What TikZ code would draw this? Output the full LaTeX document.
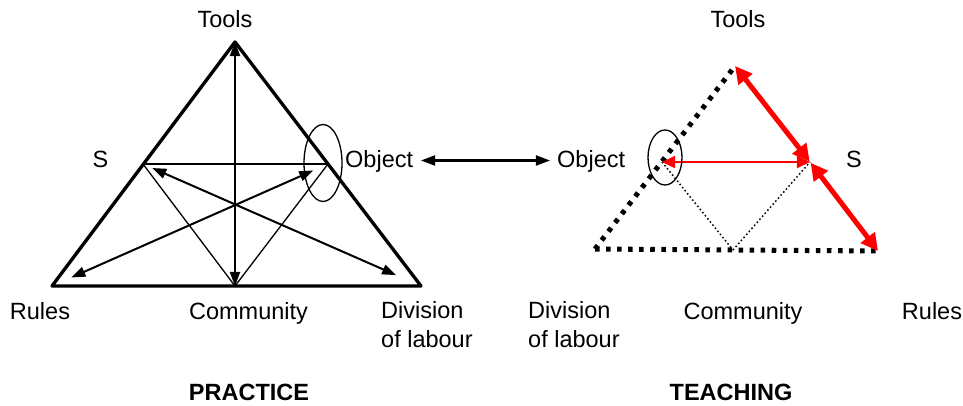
\documentclass[tikz,border=0pt]{standalone}
\usepackage{fontspec}
\setmainfont{Liberation Sans}
\usepackage{tkz-euclide}
\usetikzlibrary{arrows.meta,calc}
\definecolor{LinkClr}{RGB}{255,0,0}
\tikzset{
  lbl/.style={font=\fontsize{23.4}{28}\selectfont,inner sep=0pt,anchor=base},
  two lines/.style={lbl,align=left,anchor=base west},
  heading/.style={lbl,font=\fontsize{23.4}{28}\selectfont\bfseries},
  black both/.style={{Triangle[length=14pt,width=10pt]}-{Triangle[length=14pt,width=10pt]},line width=2pt},
  red both/.style={{Triangle[length=17pt,width=17pt]}-{Triangle[length=17pt,width=17pt]},line width=5pt,color=LinkClr},
  red thin both/.style={{Triangle[length=13pt,width=12pt]}-{Triangle[length=13pt,width=12pt]},line width=2pt,color=LinkClr},
  big dots/.style={line width=5pt,line cap=butt,dash pattern=on 4.5pt off 6.5pt},
  small dots/.style={line width=1.5pt,line cap=butt,dash pattern=on 1.5pt off 2.5pt}
}

\begin{document}
\begin{tikzpicture}[scale=.35]
\useasboundingbox (0,0) rectangle (96.3,40.5);

% practice triangle
\tkzDefPoints{23.5/36.3/TP,5.2/11.9/RP,42.1/11.9/DP,14.3/24.1/SP,32.8/24.1/OP,23.5/11.9/CP}
% teaching triangle
\tkzDefPoints{73.5/33.9/TT,59.5/15.6/DT,73.3/15.5/CT,87.8/15.4/RT,81.0/24.3/ST,66.2/24.3/OT}
\tkzDefPoints{42.1/24.45/LA,55.0/24.45/LB}

\tkzDrawPolygon[line width=3.3pt,color=black](TP,RP,DP)
\tkzDrawSegments[line width=1.3pt,color=black](SP,OP SP,CP CP,OP)
\tkzDrawSegments[black both](TP,CP)
\tkzDrawSegments[black both,shorten <=10pt,shorten >=27pt](SP,DP)
\tkzDrawSegments[black both,shorten <=21pt,shorten >=16pt](RP,OP)
\draw[line width=1.3pt] (32.3,24.2) ellipse [x radius=1.9,y radius=3.85];

\tkzDrawSegments[big dots](DT,TT DT,RT)
\tkzDrawSegments[small dots](OT,CT CT,ST)
\tkzDrawSegments[red both,shorten >=0.5pt](TT,ST)
\tkzDrawSegments[red both,shorten <=1pt](ST,RT)
\tkzDrawSegments[red thin both](OT,ST)
\draw[line width=1.3pt] (66.5,24.75) ellipse [x radius=1.7,y radius=2.75];

\tkzDrawSegments[black both](LA,LB)

\node (toolsP) [lbl] at (22.5,37.7) {Tools};
\node (sP) [lbl] at (10.05,23.7) {S};
\node (objectP) [lbl,anchor=base west] at (34.5,23.7) {Object};
\node (rulesP) [lbl] at (4.0,8.6) {Rules};
\node (communityP) [lbl] at (24.85,8.6) {Community};
\node (divisionP) [two lines] at (38.1,5.8) {Division\\of labour};
\node (practice) [heading] at (24.9,0.5) {PRACTICE};

\node (toolsT) [lbl] at (73.8,37.7) {Tools};
\node (objectT) [lbl,anchor=base west] at (55.7,23.7) {Object};
\node (sT) [lbl] at (85.4,23.7) {S};
\node (divisionT) [two lines] at (52.8,5.8) {Division\\of labour};
\node (communityT) [lbl] at (74.3,8.6) {Community};
\node (rulesT) [lbl] at (93.2,8.6) {Rules};
\node (teaching) [heading] at (73.1,0.5) {TEACHING};
\end{tikzpicture}
\end{document}
